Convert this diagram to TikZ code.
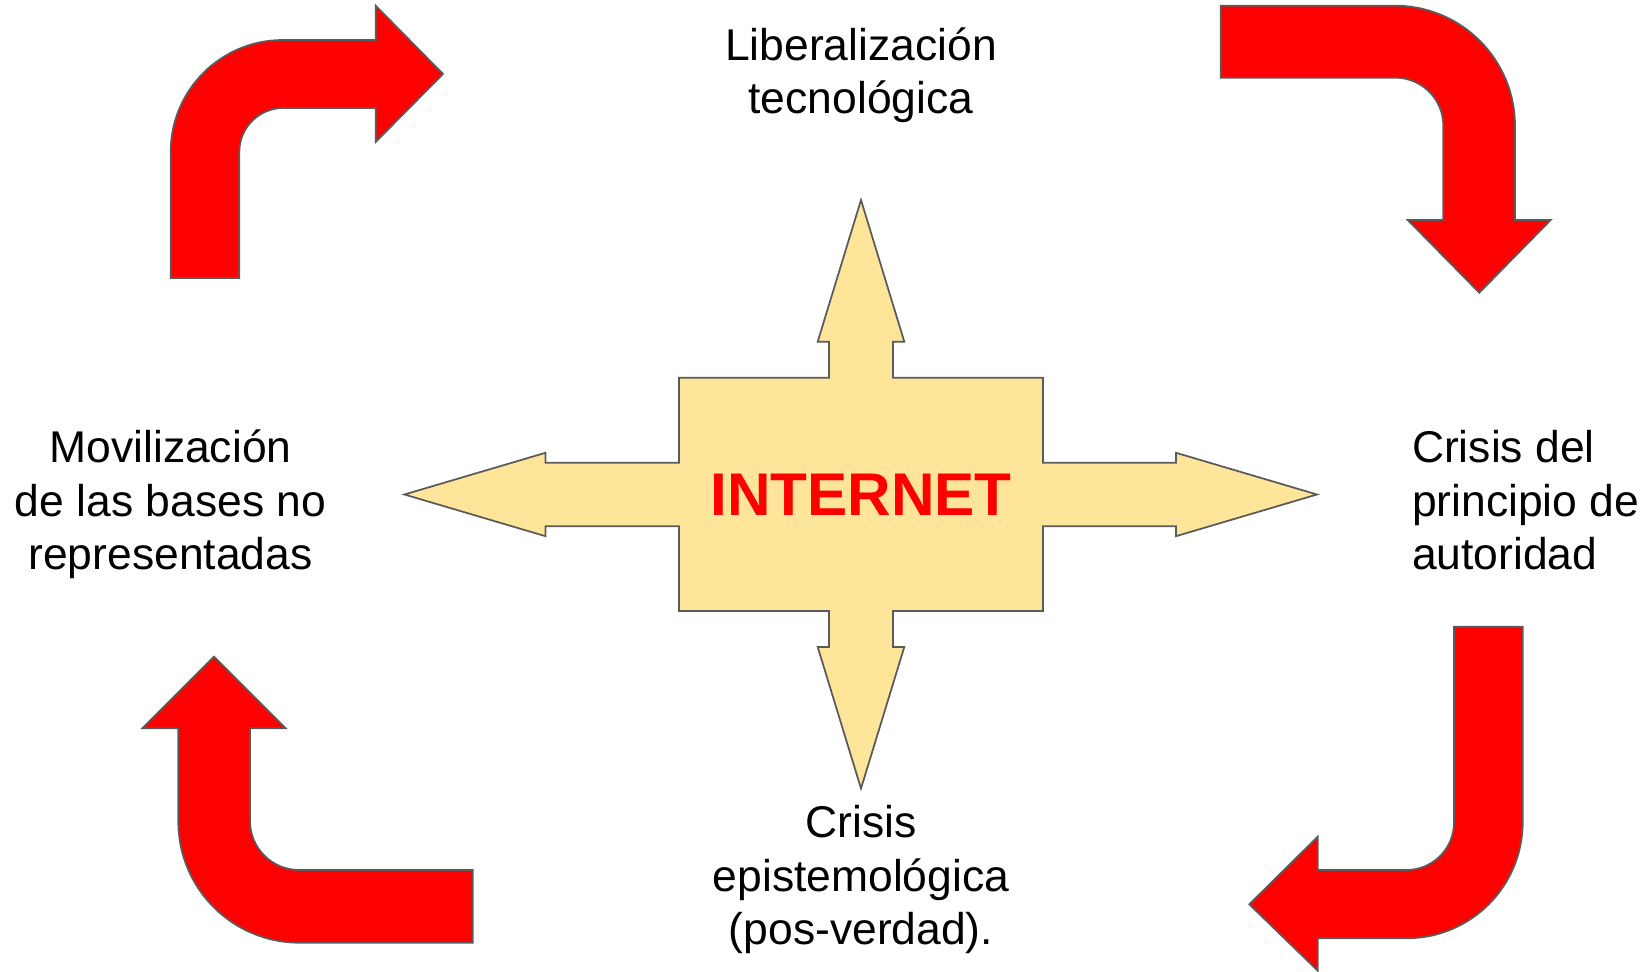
\documentclass[tikz,border=0pt]{standalone}
\usepackage{fontspec}
\setmainfont{Liberation Sans}
\usetikzlibrary{positioning}
\definecolor{arrowred}{HTML}{FF0000}
\definecolor{crossbg}{HTML}{FFE599}
\definecolor{edgegray}{HTML}{5B5B5B}

\begin{document}
\begin{tikzpicture}[
    x=0.02cm, y=-0.02cm,
    bentarrow/.style={fill=arrowred, draw=edgegray, line width=1pt, line join=miter},
    crossshape/.style={fill=crossbg, draw=edgegray, line width=1pt, line join=miter},
    lbl/.style={inner sep=0pt, font=\fontsize{25.3}{30.4}\selectfont},
    hub/.style={inner sep=0pt, text=arrowred, font=\fontsize{34.3}{40}\selectfont\bfseries},
]
\useasboundingbox (0,0) rectangle (1651,972);

%% ============ CENTRE: INTERNET CROSS ============
\draw[crossshape] (861,200) -- (904.3,341.7) -- (893,341.7) -- (893,377.7)
    -- (1043,377.7) -- (1043,462.7) -- (1176,462.7) -- (1176,452.8)
    -- (1317,494.5) -- (1176,536.2) -- (1176,526.3) -- (1043,526.3)
    -- (1043,611) -- (893,611) -- (893,647) -- (904.3,647)
    -- (861,788.5) -- (817.7,647) -- (829,647) -- (829,611)
    -- (679,611) -- (679,526.3) -- (545.5,526.3) -- (545.5,536.2)
    -- (404.4,494.5) -- (545.5,452.8) -- (545.5,462.7) -- (679,462.7)
    -- (679,377.7) -- (829,377.7) -- (829,341.7) -- (817.7,341.7) -- cycle;

\node[hub] (internet) at (861,495) {INTERNET};

%% ============ LABELS (base = last line) ============
\node[lbl, align=center, anchor=base] (libtec) at (861,114)
    {Liberalización\\tecnológica};
\node[lbl, align=left, anchor=base west] (autoridad) at (1411.7,569.5)
    {Crisis del\\principio de\\autoridad};
\node[lbl, align=center, anchor=base] (episte) at (861,944.5)
    {Crisis\\epistemológica\\(pos-verdad).};
\node[lbl, align=center, anchor=base] (movil) at (170.5,569.5)
    {Movilización\\de las bases no\\representadas};

%% ============ BENT ARROWS (clockwise cycle) ============
% top left: up, then right
\draw[bentarrow] (170.7,278) -- (170.7,152)
    arc[start angle=180, end angle=90, radius=2.24cm]
    -- (375.7,40) -- (375.7,5.7) -- (443,74) -- (375.7,142) -- (375.7,108)
    -- (283.3,108) arc[start angle=90, end angle=180, radius=0.88cm]
    -- (239.3,278) -- cycle;

% top right: right, then down
\draw[bentarrow] (1220.7,5.7) -- (1395,5.7)
    arc[start angle=90, end angle=0, radius=2.4cm]
    -- (1515,220) -- (1550.7,220) -- (1479.3,292.7) -- (1407.7,220) -- (1443.3,220)
    -- (1443.3,125.7) arc[start angle=0, end angle=90, radius=0.96cm]
    -- (1220.7,77.7) -- cycle;

% bottom right: down, then left
\draw[bentarrow] (1454,626.7) -- (1522.7,626.7) -- (1522.7,822.3)
    arc[start angle=0, end angle=-90, radius=2.32cm]
    -- (1317.7,938.3) -- (1317.7,970.7) -- (1249.3,904.3) -- (1317.7,836.7)
    -- (1317.7,870) -- (1406.5,870) arc[start angle=-90, end angle=0, radius=0.95cm]
    -- cycle;

% bottom left: left, then up
\draw[bentarrow] (214,656.7) -- (285.7,728.3) -- (250,728.3) -- (250,821)
    arc[start angle=180, end angle=270, radius=0.98cm]
    -- (472.7,870) -- (472.7,942.7) -- (299.3,942.7)
    arc[start angle=270, end angle=180, radius=2.42cm]
    -- (178.3,728.3) -- (142.3,728.3) -- cycle;

\end{tikzpicture}
\end{document}
